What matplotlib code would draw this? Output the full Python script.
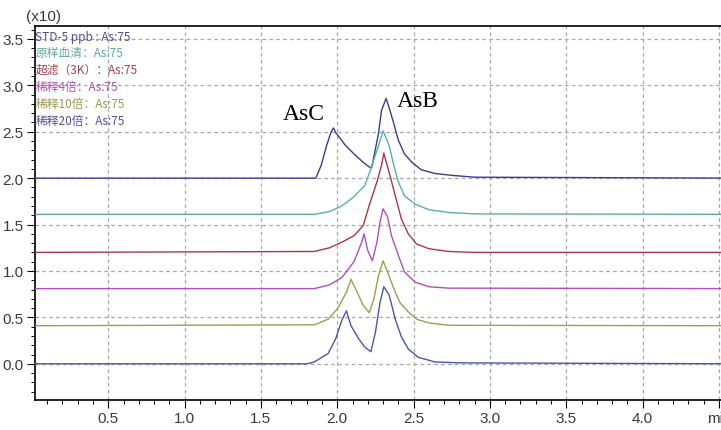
import matplotlib
matplotlib.use('Agg')
import matplotlib.pyplot as plt
from matplotlib.ticker import MultipleLocator

# --- trace data (time in min, signal in x10 counts, offsets included) ---
std_t = [0.0, 1.86, 1.895, 1.93, 1.96, 1.975, 1.99, 2.00, 2.05, 2.11, 2.17, 2.21, 2.225,
         2.27, 2.29, 2.32, 2.345, 2.37, 2.40, 2.44, 2.49, 2.55, 2.64, 2.75, 2.9, 4.6]
std_v = [2.0, 2.0, 2.14, 2.35, 2.50, 2.54, 2.49, 2.47, 2.36, 2.26, 2.17, 2.12, 2.11,
         2.48, 2.73, 2.86, 2.73, 2.59, 2.41, 2.26, 2.17, 2.09, 2.05, 2.03, 2.01, 2.0]

serum_t = [0.0, 1.85, 1.95, 2.03, 2.11, 2.18, 2.22, 2.27, 2.30, 2.34, 2.37, 2.40, 2.44,
           2.51, 2.60, 2.73, 2.9, 4.6]
serum_v = [1.61, 1.61, 1.64, 1.70, 1.80, 1.92, 2.10, 2.35, 2.51, 2.35, 2.14, 1.96, 1.81,
           1.72, 1.66, 1.63, 1.615, 1.61]

uf_t = [0.0, 1.85, 1.95, 2.03, 2.11, 2.17, 2.21, 2.26, 2.29, 2.305, 2.34, 2.38, 2.42,
        2.465, 2.52, 2.60, 2.73, 2.9, 4.6]
uf_v = [1.2, 1.21, 1.25, 1.31, 1.38, 1.49, 1.71, 1.96, 2.14, 2.27, 2.06, 1.81, 1.56,
        1.40, 1.29, 1.24, 1.21, 1.2, 1.2]

d4_t = [0.0, 1.85, 1.95, 2.03, 2.11, 2.16, 2.175, 2.20, 2.23, 2.26, 2.28, 2.30, 2.33,
        2.355, 2.40, 2.44, 2.51, 2.60, 2.73, 4.6]
d4_v = [0.81, 0.81, 0.85, 0.93, 1.10, 1.31, 1.40, 1.22, 1.11, 1.31, 1.53, 1.67, 1.58,
        1.38, 1.17, 0.99, 0.88, 0.83, 0.815, 0.81]

d10_t = [0.0, 1.85, 1.94, 2.00, 2.06, 2.09, 2.125, 2.17, 2.21, 2.24, 2.27, 2.30, 2.33,
         2.37, 2.41, 2.465, 2.52, 2.60, 2.73, 4.6]
d10_v = [0.41, 0.42, 0.48, 0.59, 0.77, 0.91, 0.79, 0.63, 0.55, 0.70, 0.95, 1.11, 0.99,
         0.81, 0.66, 0.56, 0.48, 0.44, 0.415, 0.41]

d20_t = [0.0, 1.80, 1.85, 1.94, 1.99, 2.03, 2.06, 2.09, 2.14, 2.18, 2.22, 2.25, 2.28,
         2.305, 2.34, 2.38, 2.42, 2.465, 2.53, 2.64, 2.8, 4.6]
d20_v = [0.0, 0.0, 0.02, 0.11, 0.27, 0.47, 0.57, 0.41, 0.27, 0.18, 0.13, 0.34, 0.66,
         0.83, 0.74, 0.48, 0.29, 0.16, 0.07, 0.02, 0.01, 0.0]

labels = ['STD-5 ppb : As:75', '原样血清：As:75', '超滤（3K）：As:75',
          '稀释4倍：As:75', '稀释10倍：As:75', '稀释20倍：As:75']
line_colors = ['#3c3c8c', '#5ab0a8', '#a8384a', '#b050b8', '#9ca050', '#4858a8']
text_colors = ['#4c4c9c', '#60a8a0', '#a04050', '#b050b0', '#9a9a50', '#50509c']

xticks = [0.5, 1.0, 1.5, 2.0, 2.5, 3.0, 3.5, 4.0, 4.5]
xticklabels = ['0.5', '1.0', '1.5', '2.0', '2.5', '3.0', '3.5', '4.0', 'min']

fig = plt.figure(figsize=(7.21, 4.31), dpi=100)
ax = fig.add_axes([0.0485, 0.0696, 0.955, 0.868])

series = [(std_t, std_v), (serum_t, serum_v), (uf_t, uf_v),
          (d4_t, d4_v), (d10_t, d10_v), (d20_t, d20_v)]
for (t, v), c in zip(series, line_colors):
    ax.plot(t, v, color=c, lw=1.0, zorder=3)

ax.set_xlim(0.02, 4.53)
ax.set_ylim(-0.39, 3.64)

ax.set_xticks(xticks)
ax.set_xticklabels(xticklabels)
ax.xaxis.set_minor_locator(MultipleLocator(0.1))
ax.yaxis.set_major_locator(MultipleLocator(0.5))
ax.yaxis.set_minor_locator(MultipleLocator(0.1))
ax.yaxis.set_major_formatter(plt.FuncFormatter(lambda v, p: f'{v:.1f}'))

tick_font = ['Liberation Sans Narrow', 'Liberation Sans', 'DejaVu Sans']
for lab in ax.get_xticklabels() + ax.get_yticklabels():
    lab.set_family(tick_font)
    lab.set_fontsize(11)
    lab.set_color('#3a3a3a')
ax.tick_params(which='major', length=6, width=0.8, direction='out', pad=2)
ax.tick_params(which='minor', length=3, width=0.7, direction='out')

ax.grid(True, which='major', color='#a8a8a8', linestyle=(0, (3, 2.5)), lw=0.9, zorder=1)
ax.spines['right'].set_visible(False)
for s in ['left', 'bottom', 'top']:
    ax.spines[s].set_linewidth(1.2)

fig.text(0.036, 0.96, '(x10)', family=tick_font, fontsize=11, color='#3a3a3a',
         ha='left', va='center')

# legend-style colored labels
for i, (lab, c) in enumerate(zip(labels, text_colors)):
    fig.text(0.049, 1 - (37 + i * 16.8) / 431, lab, color=c, fontsize=8.5,
             family=['Noto Sans CJK SC', 'DejaVu Sans'], ha='left', va='center', zorder=5)

ax.text(1.64, 2.64, 'AsC', family=['Liberation Serif'], fontsize=17, ha='left', va='baseline')
ax.text(2.39, 2.78, 'AsB', family=['Liberation Serif'], fontsize=17, ha='left', va='baseline')

fig.savefig('out.png', dpi=100)
